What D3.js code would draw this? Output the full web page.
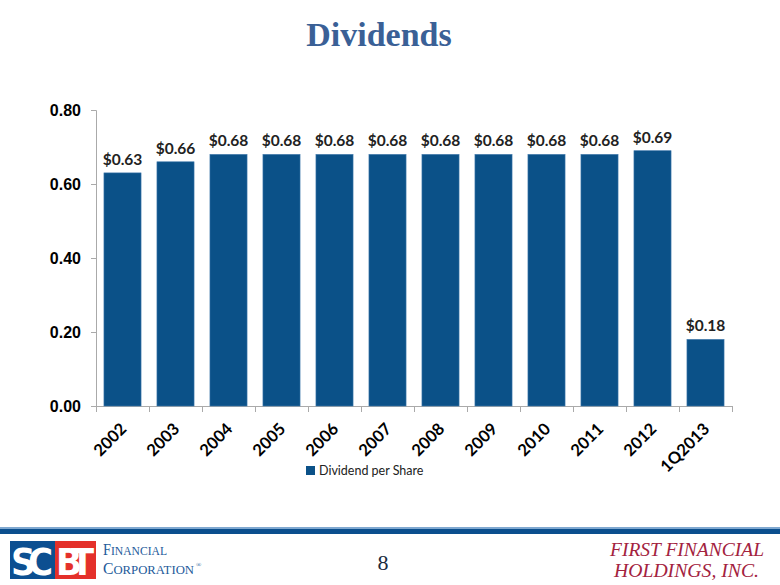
<!DOCTYPE html>
<html><head><meta charset="utf-8">
<script src="https://cdn.jsdelivr.net/npm/d3@7"></script>
<style>body{margin:0;background:#fff}svg{display:block}</style>
</head><body>
<svg id="c" width="780" height="585"></svg>
<script>
const categories = ["2002","2003","2004","2005","2006","2007","2008","2009","2010","2011","2012","1Q2013"];
const dividends = [0.63,0.66,0.68,0.68,0.68,0.68,0.68,0.68,0.68,0.68,0.69,0.18];
const valueLabels = ["$0.63","$0.66","$0.68","$0.68","$0.68","$0.68","$0.68","$0.68","$0.68","$0.68","$0.69","$0.18"];
const yTicks = [0,0.2,0.4,0.6,0.8];
const seriesName = "Dividend per Share";

const svg = d3.select("#c");
const x = d3.scaleBand().domain(categories).range([96,732]).paddingInner(0.3).paddingOuter(0.15);
const y = d3.scaleLinear().domain([0,0.8]).range([406,110]);
const barColor = "#0b5188";
const calib = "Lato, 'Open Sans', sans-serif";

// title
svg.append("text").attr("x",379).attr("y",46).attr("text-anchor","middle")
  .attr("font-family","Liberation Serif, serif").attr("font-weight","bold").attr("font-size",34)
  .attr("fill","#3a6096").text("Dividends");

// y axis
const yAxis = svg.append("g").attr("transform","translate(96,0)")
  .call(d3.axisLeft(y).tickValues(yTicks).tickFormat(d3.format(".2f")).tickSize(5).tickPadding(10));
yAxis.select(".domain").attr("stroke","#aaa");
yAxis.selectAll(".tick line").attr("stroke","#aaa");
yAxis.selectAll(".tick text").attr("font-family","Liberation Sans, Arial, sans-serif")
  .attr("font-weight","bold").attr("font-size",16).attr("fill","#000");

// x axis line and boundary ticks
svg.append("line").attr("x1",96).attr("x2",732).attr("y1",406.5).attr("y2",406.5).attr("stroke","#aaa");
const bounds = d3.range(categories.length+1).map(i => x.range()[0] + i*(x.range()[1]-x.range()[0])/categories.length);
svg.selectAll(".xt").data(bounds).enter().append("line")
  .attr("x1",d=>d+0.5).attr("x2",d=>d+0.5).attr("y1",406).attr("y2",412).attr("stroke","#aaa");

// bars
svg.selectAll(".bar").data(dividends).enter().append("rect")
  .attr("x",(d,i)=>x(categories[i])).attr("width",x.bandwidth())
  .attr("y",d=>y(d)).attr("height",d=>406-y(d))
  .attr("fill",barColor).attr("stroke","#3f78ab").attr("stroke-width",0.6);

// value labels
svg.selectAll(".vl").data(dividends).enter().append("text")
  .attr("x",(d,i)=>x(categories[i])+x.bandwidth()/2).attr("y",d=>y(d)-8)
  .attr("text-anchor","middle").attr("font-family",calib)
  .attr("font-weight","bold").attr("font-size",15.5).attr("fill","#222")
  .text((d,i)=>valueLabels[i]);

// x labels
svg.selectAll(".xl").data(categories).enter().append("text")
  .attr("transform",d=>`translate(${x(d)+x.bandwidth()/2+1},${426}) rotate(-45)`)
  .attr("text-anchor","end").attr("dy","0.35em")
  .attr("font-family",calib).attr("font-weight","bold")
  .attr("font-size",16.5).attr("fill","#000").text(d=>d);

// legend
svg.append("rect").attr("x",306).attr("y",466).attr("width",9).attr("height",9).attr("fill",barColor);
svg.append("text").attr("x",319).attr("y",475).attr("font-family",calib)
  .attr("font-size",12.5).attr("fill","#222").text(seriesName);

// footer lines
svg.append("rect").attr("x",0).attr("y",527).attr("width",780).attr("height",2).attr("fill","#7fa8d0");
svg.append("rect").attr("x",0).attr("y",529).attr("width",780).attr("height",5).attr("fill","#0b4f8e");

// SCBT logo
svg.append("rect").attr("x",10).attr("y",541).attr("width",45).attr("height",38).attr("fill","#0c4f91");
svg.append("rect").attr("x",55).attr("y",541).attr("width",41).attr("height",38).attr("fill","#e4302a");
svg.append("text").attr("x",32).attr("y",575).attr("text-anchor","middle").attr("font-family","DejaVu Sans Condensed, Liberation Sans Narrow, sans-serif")
  .attr("font-weight","bold").attr("font-size",38).attr("fill","#fff").attr("textLength",42).text("SC");
svg.append("text").attr("x",75).attr("y",575).attr("text-anchor","middle").attr("font-family","DejaVu Sans Condensed, Liberation Sans Narrow, sans-serif")
  .attr("font-weight","bold").attr("font-size",38).attr("fill","#fff").attr("textLength",38).text("BT");
const fin = svg.append("text").attr("x",103).attr("y",555).attr("font-family","Liberation Serif, serif")
  .attr("fill","#1d5a9a").attr("textLength",64).attr("lengthAdjust","spacingAndGlyphs");
fin.append("tspan").attr("font-size",16).text("F");
fin.append("tspan").attr("font-size",13).text("INANCIAL");
const corp = svg.append("text").attr("x",103).attr("y",574).attr("font-family","Liberation Serif, serif")
  .attr("fill","#1d5a9a").attr("textLength",91).attr("lengthAdjust","spacingAndGlyphs");
corp.append("tspan").attr("font-size",16).text("C");
corp.append("tspan").attr("font-size",13).text("ORPORATION");
svg.append("text").attr("x",196).attr("y",567).attr("font-family","Liberation Serif, serif")
  .attr("font-size",7).attr("fill","#1d5a9a").text("®");

// page number
svg.append("text").attr("x",383).attr("y",570).attr("text-anchor","middle").attr("font-family","Liberation Serif, serif")
  .attr("font-size",22).attr("fill","#1a2a40").text("8");

// right logo
svg.append("text").attr("x",610).attr("y",556).attr("font-family","Liberation Serif, serif")
  .attr("font-style","italic").attr("font-size",18).attr("fill","#a3223e")
  .attr("textLength",154).attr("lengthAdjust","spacingAndGlyphs").text("FIRST FINANCIAL");
svg.append("text").attr("x",614).attr("y",577).attr("font-family","Liberation Serif, serif")
  .attr("font-style","italic").attr("font-size",18).attr("fill","#a3223e")
  .attr("textLength",145).attr("lengthAdjust","spacingAndGlyphs").text("HOLDINGS, INC.");
</script>
</body></html>
